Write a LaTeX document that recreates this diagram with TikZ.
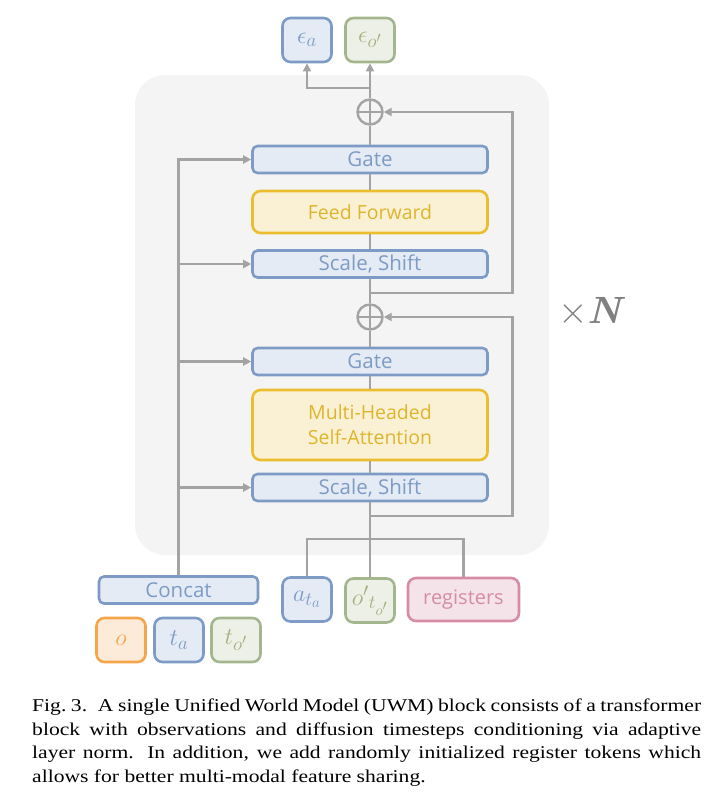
\RequirePackage{fix-cm}
\documentclass[tikz,border=0pt]{standalone}
\usepackage{fontspec}
\setsansfont{Open Sans}
\newfontfamily\capfont[FakeStretch=1.2]{Liberation Serif}
\DeclareMathSizes{24}{24}{19}{15}
\usetikzlibrary{arrows.meta,calc}
\definecolor{bgray}{HTML}{F4F4F4}
\definecolor{lgray}{HTML}{A3A3A3}
\definecolor{bluestroke}{HTML}{7D9BC5}
\definecolor{bluefill}{HTML}{E4EBF5}
\definecolor{yelstroke}{HTML}{EABE2E}
\definecolor{yelfill}{HTML}{FAF1D5}
\definecolor{grnstroke}{HTML}{A3B68E}
\definecolor{grnfill}{HTML}{ECF0E7}
\definecolor{grntext}{HTML}{A4B07C}
\definecolor{orgstroke}{HTML}{F6A548}
\definecolor{orgfill}{HTML}{FDEBDA}
\definecolor{pnkstroke}{HTML}{D68CA5}
\definecolor{pnkfill}{HTML}{F5E3EA}
\definecolor{ntext}{HTML}{808080}
\tikzset{
  wide/.style={draw=bluestroke,fill=bluefill,text=bluestroke,line width=2.6pt,rounded corners=5pt,minimum width=235pt,minimum height=27pt,inner sep=0pt,font=\sffamily\fontsize{20.5}{22}\selectfont},
  ywide/.style={wide,draw=yelstroke,fill=yelfill,text=yelstroke!95!black,rounded corners=8pt},
  sq/.style={line width=2.6pt,rounded corners=8pt,minimum width=49pt,minimum height=44pt,inner sep=0pt,font=\fontsize{24}{26}\selectfont},
  bsq/.style={sq,draw=bluestroke,fill=bluefill,text=bluestroke},
  gsq/.style={sq,draw=grnstroke,fill=grnfill,text=grntext},
  osq/.style={sq,draw=orgstroke,fill=orgfill,text=orgstroke},
  conn/.style={draw=lgray,line width=2.6pt},
  arr/.style={conn,-{Triangle[length=8pt,width=8pt]}},
  plus/.style={circle,draw=lgray,line width=2.4pt,minimum size=25pt,inner sep=0pt,
    path picture={\draw[lgray,line width=2.4pt] (path picture bounding box.north) -- (path picture bounding box.south) (path picture bounding box.west) -- (path picture bounding box.east);}}
}
\begin{document}
\begin{tikzpicture}[x=1pt,y=-1pt]
\useasboundingbox (0,0) rectangle (723,795);
\fill[bgray,rounded corners=30pt] (135,75) rectangle (549,555);

% outputs
\node[bsq] (ea) at (307,40) {$\epsilon_a$};
\node[gsq] (eo) at (370,40) {$\epsilon_{o'}$};

% main column
\node[plus] (p1) at (370,112) {};
\node[wide] (g1) at (370,159.5) {Gate};
\node[ywide,minimum height=42pt,font=\sffamily\fontsize{19.5}{22}\selectfont] (ff) at (370,212) {Feed Forward};
\node[wide] (s1) at (370,264) {Scale, Shift};
\node[plus] (p2) at (370,317) {};
\node[wide] (g2) at (370,361.5) {Gate};
\node[ywide,minimum height=70pt,align=center,font=\sffamily\fontsize{19.5}{22}\selectfont] (mh) at (370,425) {Multi-Headed\\[3pt]Self-Attention};
\node[wide] (s2) at (370,487.5) {Scale, Shift};

% conditioning
\node[wide,minimum width=159pt] (cc) at (178.5,590) {Concat};
\node[osq] (o) at (121,640) {$o$};
\node[bsq] (ta) at (179,640) {$t_a$};
\node[gsq] (to) at (236,640) {$t_{o'}$};

% inputs
\node[bsq] (at) at (307,599.5) {$a_{t_a}$};
\node[gsq] (op) at (370,600.5) {${o'}_{t_{o'}}$};
\node[sq,draw=pnkstroke,fill=pnkfill,text=pnkstroke,minimum width=111pt,minimum height=43pt,font=\sffamily\fontsize{20}{22}\selectfont] (rg) at (463.5,599.5) {registers};

\coordinate (jb) at (370,539);
\coordinate (r1) at (370,516);
\coordinate (r2) at (370,293);
\coordinate (jt) at (370,88);

% main path
\draw[conn] (op.north) -- (s2.south);
\draw[conn] (at.north) |- (jb) -| (rg.north);
\draw[conn] (s2.north) -- (mh.south);
\draw[conn] (mh.north) -- (g2.south);
\draw[conn] (g2.north) -- (p2.south);
\draw[conn] (p2.north) -- (s1.south);
\draw[conn] (s1.north) -- (ff.south);
\draw[conn] (ff.north) -- (g1.south);
\draw[conn] (g1.north) -- (p1.south);
\draw[arr] (p1.north) -- (eo.south);
\draw[arr] (jt) -| (ea.south);

% residuals
\draw[arr] (r1) -| (512.5,317) -- (p2.east);
\draw[arr] (r2) -| (512.5,112) -- (p1.east);

% conditioning arrows
\draw[arr] (cc.north) |- (g1.west);
\draw[arr] (cc.north |- s1.west) -- (s1.west);
\draw[arr] (cc.north |- g2.west) -- (g2.west);
\draw[arr] (cc.north |- s2.west) -- (s2.west);

% xN
\node[text=ntext,font=\fontsize{38}{40}\selectfont,anchor=base] (xn) at (592,323) {$\times$\textbf{\itshape N}};

% caption
\node[anchor=north west,text width=669pt,align=justify,inner sep=0pt,font=\capfont\fontsize{18}{23.5}\selectfont] (cap) at (32,699) {Fig.~3.\hspace{0.6em}A single Unified World Model (UWM) block consists of a transformer\linebreak block with observations and diffusion timesteps conditioning via adaptive\linebreak layer norm. In addition, we add randomly initialized register tokens which\linebreak allows for better multi-modal feature sharing.};
\end{tikzpicture}
\end{document}
